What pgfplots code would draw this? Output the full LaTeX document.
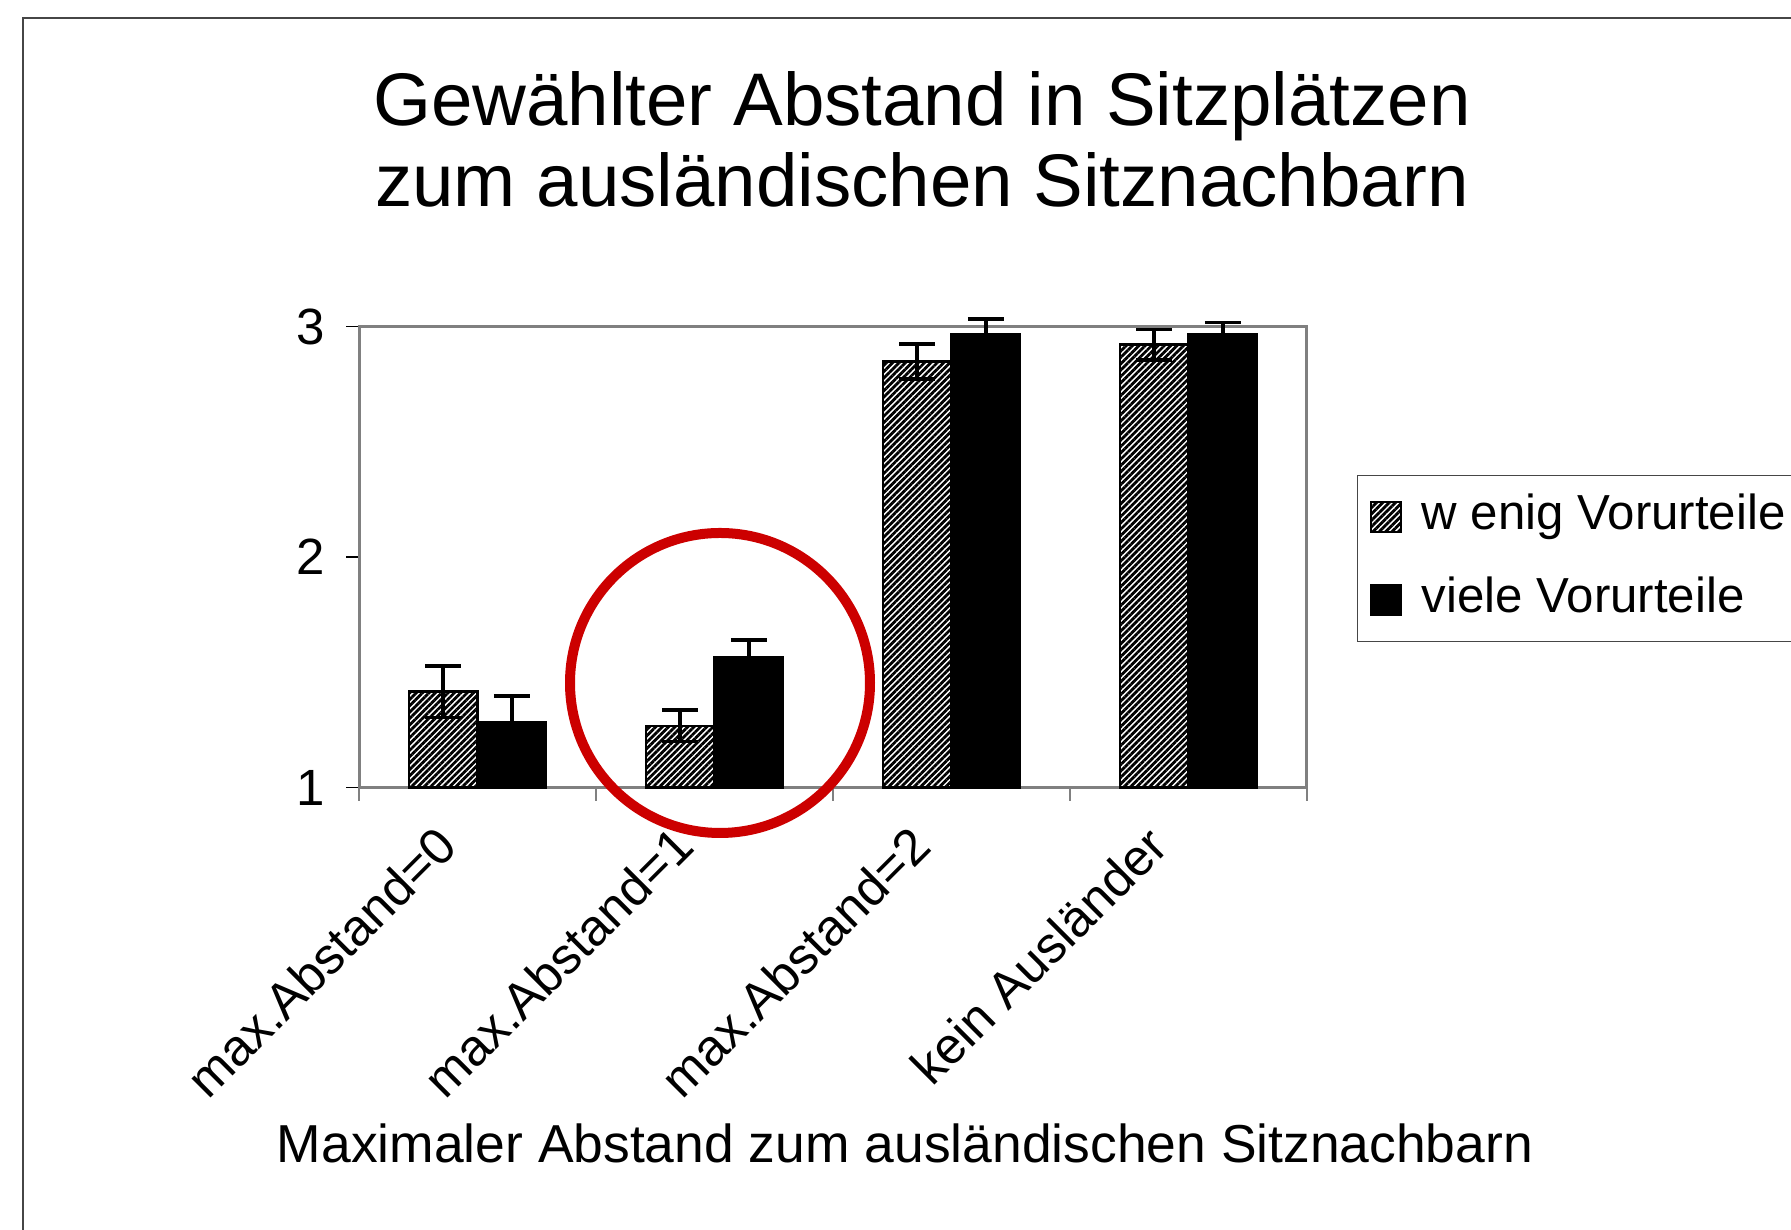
\documentclass[border=0pt]{standalone}
\usepackage{fontspec}
\setmainfont{Liberation Sans}
\usepackage{pgfplots}
\pgfplotsset{compat=1.18}
\usetikzlibrary{patterns.meta}
\definecolor{axgray}{RGB}{128,128,128}
\definecolor{circred}{RGB}{204,0,0}
\definecolor{framegray}{RGB}{70,70,70}
\pgfplotsset{myerr/.style={error bars/.cd, y dir=both, y explicit,
    error bar style={line width=0.35mm, black},
    error mark options={rotate=90, mark size=1.8mm, line width=0.35mm, black}}}
\begin{document}
\begin{tikzpicture}
\useasboundingbox (0,0) rectangle (179.1mm,123mm);
\fill[white] (0,0) rectangle (179.1mm,123mm);
\draw[framegray, line width=0.2mm] (2.3mm,-3mm) -- (2.3mm,121.2mm) -- (183mm,121.2mm);
\node[anchor=base, inner sep=0pt, font=\fontsize{21.2}{25}\selectfont] at (92.2mm,110.4mm) {Gewählter Abstand in Sitzplätzen};
\node[anchor=base, inner sep=0pt, font=\fontsize{21.2}{25}\selectfont] at (92.2mm,102.3mm) {zum ausländischen Sitznachbarn};
\node[anchor=base, inner sep=0pt, font=\fontsize{15.2}{17}\selectfont] at (90.5mm,6.7mm) {Maximaler Abstand zum ausländischen Sitznachbarn};
\begin{axis}[
  at={(35.9mm,44.23mm)}, anchor=south west,
  width=94.8mm, height=46.1mm, scale only axis,
  xmin=-0.5, xmax=3.5, ymin=0, ymax=2,
  clip=false,
  ybar, bar width=0.29,
  y filter/.expression={y-1},
  axis line style={axgray, line width=0.3mm},
  xtick={0,1,2,3},
  xticklabels={max.Abstand=0, max.Abstand=1, max.Abstand=2, kein Ausländer},
  minor xtick={-0.5,0.5,1.5,2.5,3.5},
  ytick={0,1,2}, yticklabels={1,2,3},
  tick pos=left,
  tick align=outside,
  major tick length=1.3mm, minor tick length=1.3mm,
  every major x tick/.style={draw=none},
  every minor x tick/.style={axgray, line width=0.2mm},
  every major y tick/.style={black, line width=0.15mm},
  /pgf/number format/assume math mode=true,
  yticklabel style={font=\fontsize{14.5}{17}\selectfont, xshift=-0.9mm},
  xticklabel style={font=\fontsize{14.5}{17}\selectfont, xshift=-2.2mm, yshift=-2.7mm, rotate=45, anchor=east},
  legend style={at={(1.0527,0.679)}, anchor=north west, draw=framegray, line width=0.15mm,
    font=\fontsize{14}{16.8}\selectfont, inner sep=1.2mm, row sep=2.4mm, column sep=1.4mm,
    nodes={text height=3.6mm, text depth=1.1mm, inner sep=0.6mm}},
  legend cell align=left,
  legend image code/.code={\draw[#1, line width=0.2mm] (0mm,-1.5mm) rectangle (3mm,1.5mm);},
]
\addplot[draw=black, line width=0.25mm, bar shift=-0.145,
  pattern={Lines[angle=45, distance=0.45mm, line width=0.28mm]}, myerr]
  table[x=x, y=y, y error=e] {
x y e
0 1.417 0.112
1 1.268 0.068
2 2.850 0.076
3 2.922 0.066
};
\addlegendentry{w enig Vorurteile}
\addplot[draw=black, fill=black, line width=0.25mm, bar shift=0.145, myerr]
  table[x=x, y=y, y error=e] {
x y e
0 1.286 0.112
1 1.568 0.073
2 2.968 0.065
3 2.968 0.051
};
\addlegendentry{viele Vorurteile}
\end{axis}
\draw[circred, line width=1mm] (72.0mm,54.7mm) circle[radius=15mm];
\end{tikzpicture}
\end{document}
